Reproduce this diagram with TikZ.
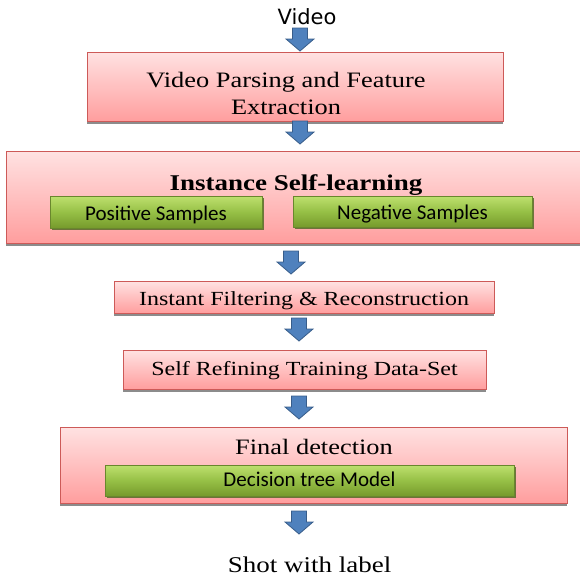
\documentclass[tikz,border=0pt]{standalone}
\usepackage{fontspec}
\setmainfont{Liberation Serif}[FakeStretch=1.2]
\newfontfamily\greenfont{Carlito}
\newfontfamily\videofont{DejaVu Sans}
\usetikzlibrary{shadows}
\definecolor{redtop}{RGB}{255,226,226}
\definecolor{redbot}{RGB}{255,158,158}
\definecolor{redline}{RGB}{205,90,88}
\definecolor{greentop}{RGB}{190,224,110}
\definecolor{greenmid}{RGB}{150,192,70}
\definecolor{greenbot}{RGB}{118,154,44}
\definecolor{greenline}{RGB}{105,135,45}
\definecolor{greenshadow}{RGB}{85,105,40}
\definecolor{arrowfill}{RGB}{79,129,189}
\definecolor{arrowline}{RGB}{56,93,138}
\tikzset{
  redbox/.style={draw=redline, line width=1pt, top color=redtop, bottom color=redbot,
    drop shadow={shadow xshift=0pt, shadow yshift=-2.5pt, fill=gray, opacity=0.9},
    inner sep=0pt, font=\fontsize{20}{24}\selectfont},
  greenbox/.style={draw=greenline, line width=0.6pt, top color=greentop, bottom color=greenbot, middle color=greenmid,
    drop shadow={shadow xshift=1.5pt, shadow yshift=-1.5pt, fill=greenshadow, opacity=0.85},
    inner sep=0pt, font=\greenfont\fontsize{21}{25}\selectfont},
  bigtext/.style={inner sep=0pt, font=\fontsize{22}{27}\selectfont},
  barrow/.pic={\draw[fill=arrowfill, draw=arrowline, line width=0.8pt, line join=miter]
    (-7.5,0) -- (7.5,0) -- (7.5,11) -- (14,11) -- (0,23) -- (-14,11) -- (-7.5,11) -- cycle;}
}
\begin{document}
\begin{tikzpicture}[x=1pt,y=-1pt]
\clip (0,0) rectangle (580,576);
% top label
\node[anchor=base, inner sep=0pt, font=\videofont\fontsize{21}{25}\selectfont] (video) at (307,24) {Video};
\pic at (300,28) {barrow};
% box 1
\node[redbox, minimum width=416pt, minimum height=69pt] (parse) at (295,86.5) {};
\node[bigtext, align=center] (parsetext) at (286,93) {Video Parsing and Feature\\Extraction};
\pic at (300,121) {barrow};
% box 2
\node[redbox, minimum width=580pt, minimum height=92pt] (isl) at (296,197) {};
\node[bigtext, anchor=base, font=\bfseries\fontsize{22.5}{27}\selectfont] (isltext) at (296,190) {Instance Self-learning};
\node[greenbox, minimum width=212pt, minimum height=32pt, text height=16pt, text depth=0pt] (pos) at (156,212) {Positive Samples};
\node[greenbox, minimum width=239pt, minimum height=31pt, text height=16pt, text depth=0pt] (neg) at (412.5,211.5) {Negative Samples};
\pic at (291,251) {barrow};
% box 3
\node[redbox, minimum width=380pt, minimum height=32pt, text height=16pt, text depth=0pt] (filt) at (304,297) {Instant Filtering \& Reconstruction};
\pic at (299,318) {barrow};
% box 4
\node[redbox, minimum width=363pt, minimum height=39pt, text height=14pt, text depth=3pt] (refine) at (304.5,369.5) {Self Refining Training Data-Set};
\pic at (299,396) {barrow};
% box 5
\node[redbox, minimum width=507pt, minimum height=76pt] (final) at (313.5,465) {};
\node[bigtext, anchor=base] (finaltext) at (314,454) {Final detection};
\node[greenbox, minimum width=409pt, minimum height=31pt, text height=13pt, text depth=1pt] (dt) at (309.5,480.5) {Decision tree Model};
\pic at (299,511) {barrow};
% output
\node[bigtext, anchor=base, font=\fontsize{22.5}{27}\selectfont] (shot) at (309.5,572) {Shot with label};
\end{tikzpicture}
\end{document}
